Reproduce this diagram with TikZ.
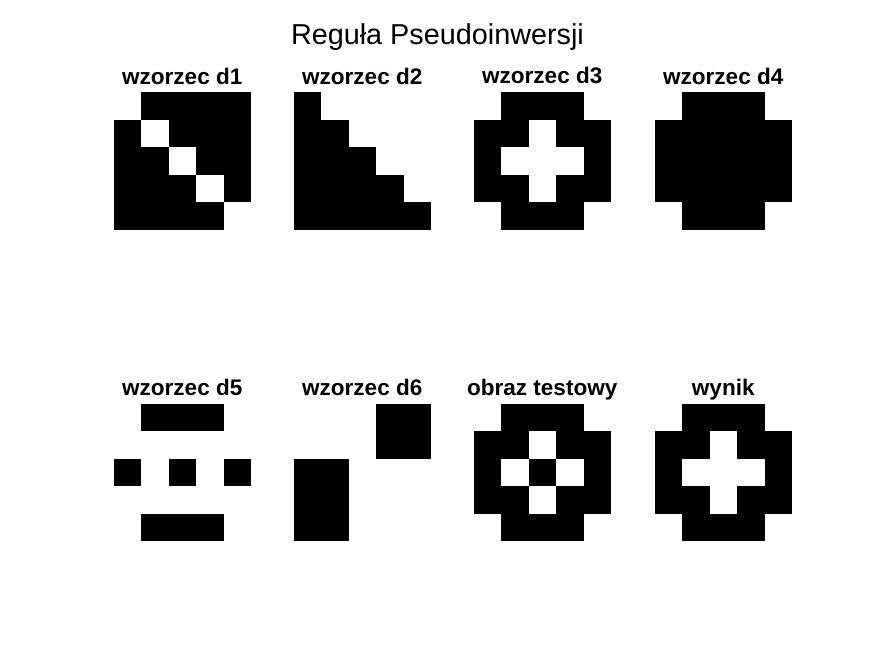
\documentclass[tikz,border=0pt]{standalone}
\usepackage{fontspec}
\setmainfont{Liberation Sans}
\usetikzlibrary{positioning}

\newcommand{\pixgrid}[3]{%
  \foreach \row [count=\i] in {#3} {
    \foreach \c [count=\j] in \row {
      \ifnum\c=1 \fill[black] ({#1+(\j-1)*27.5},{#2+(\i-1)*27.5}) rectangle ++(27.5,27.5); \fi
    }
  }%
}

\begin{document}
\begin{tikzpicture}[x=0.75pt, y=-0.75pt,
  subtitle/.style={anchor=base, inner sep=0pt, font=\fontsize{16.9}{20}\selectfont\bfseries},
  maintitle/.style={anchor=base, inner sep=0pt, font=\fontsize{21.6}{26}\selectfont}]
  \useasboundingbox[fill=white] (0,0) rectangle (875,656);

  \node[maintitle] (title) at (437.5,45) {Reguła Pseudoinwersji};

  \node[subtitle] (d1) at (182.25,84.5) {wzorzec d1};
  \node[subtitle] (d2) at (362.25,84.5) {wzorzec d2};
  \node[subtitle] (d3) at (542.25,83.5) {wzorzec d3};
  \node[subtitle] (d4) at (723.25,84.5) {wzorzec d4};
  \node[subtitle] (d5) at (182.25,395.5) {wzorzec d5};
  \node[subtitle] (d6) at (362.25,395.5) {wzorzec d6};
  \node[subtitle] (test) at (542.25,395.5) {obraz testowy};
  \node[subtitle] (out) at (723.25,395.5) {wynik};

  \pixgrid{113.5}{92.2}{{0,1,1,1,1},{1,0,1,1,1},{1,1,0,1,1},{1,1,1,0,1},{1,1,1,1,0}}
  \pixgrid{293.5}{92.2}{{1,0,0,0,0},{1,1,0,0,0},{1,1,1,0,0},{1,1,1,1,0},{1,1,1,1,1}}
  \pixgrid{473.5}{92.2}{{0,1,1,1,0},{1,1,0,1,1},{1,0,0,0,1},{1,1,0,1,1},{0,1,1,1,0}}
  \pixgrid{654.5}{92.2}{{0,1,1,1,0},{1,1,1,1,1},{1,1,1,1,1},{1,1,1,1,1},{0,1,1,1,0}}
  \pixgrid{113.5}{403.5}{{0,1,1,1,0},{0,0,0,0,0},{1,0,1,0,1},{0,0,0,0,0},{0,1,1,1,0}}
  \pixgrid{293.5}{403.5}{{0,0,0,1,1},{0,0,0,1,1},{1,1,0,0,0},{1,1,0,0,0},{1,1,0,0,0}}
  \pixgrid{473.5}{403.5}{{0,1,1,1,0},{1,1,0,1,1},{1,0,1,0,1},{1,1,0,1,1},{0,1,1,1,0}}
  \pixgrid{654.5}{403.5}{{0,1,1,1,0},{1,1,0,1,1},{1,0,0,0,1},{1,1,0,1,1},{0,1,1,1,0}}
\end{tikzpicture}
\end{document}
